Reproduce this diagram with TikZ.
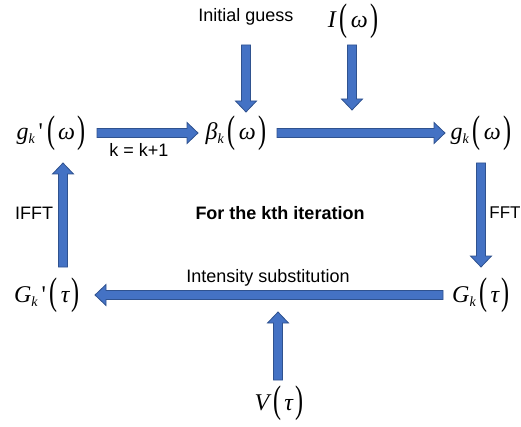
\documentclass[tikz,border=0pt]{standalone}
\usepackage{fontspec}
\setmainfont{Liberation Serif}
\newfontfamily\arialf{Liberation Sans}
\usetikzlibrary{calc}
\definecolor{arrfill}{HTML}{4472C4}
\definecolor{arrline}{HTML}{2F528F}
\newcommand\lp{\raisebox{-2.8pt}{\scalebox{1}[1.6]{(}}}
\newcommand\rp{\raisebox{-2.8pt}{\scalebox{1}[1.6]{)}}}
\newcommand\sk{\raisebox{-4pt}{\fontsize{14}{14}\selectfont\itshape k}}
\newcommand\prm{\hspace{4pt}{\upshape\textquotesingle}}
\newcommand\pa[1]{\hspace{4pt}\lp\hspace{3pt}{\itshape #1}\hspace{2.5pt}\rp}
\newcommand\barrow[2]{%
  \path let \p1=(#1),\p2=(#2),\n1={atan2(\y2-\y1,\x2-\x1)},\n2={veclen(\x2-\x1,\y2-\y1)} in
    \pgfextra{\pgfmathsetmacro\tmpa{\n1}\pgfmathsetmacro\tmpb{\n2}\xdef\barang{\tmpa}\xdef\barlen{\tmpb}\xdef\barx{\x1}\xdef\bary{\y1}};
  \begin{scope}[shift={(\barx,\bary)},rotate=\barang]
    \draw[blockarrow] (0,-4.5) -- ({\barlen-11},-4.5) -- ({\barlen-11},-10.5) -- (\barlen,0)
      -- ({\barlen-11},10.5) -- ({\barlen-11},4.5) -- (0,4.5) -- cycle;
  \end{scope}}
\begin{document}
\begin{tikzpicture}[x=1pt,y=1pt,
  blockarrow/.style={fill=arrfill,draw=arrline,line width=0.8pt,line join=miter},
  lbl/.style={font=\arialf\fontsize{18}{18}\selectfont,inner sep=0pt},
  mth/.style={font=\fontsize{24}{24}\selectfont,inner sep=0pt,anchor=base}]
\useasboundingbox (0,0) rectangle (521,426);
% labels
\node[lbl] (init) at (246,409) {Initial guess};
\node[mth] (Iw) at (353,398) {{\itshape I}\pa{ω}};
\node[mth] (gp) at (51,286) {{\itshape g}\sk\prm\pa{ω}};
\node[mth] (beta) at (236,286) {{\itshape β}\sk\pa{ω}};
\node[mth] (g) at (481,286) {{\itshape g}\sk\pa{ω}};
\node[mth] (Gp) at (47,124) {{\itshape G}\sk\prm\pa{τ}};
\node[mth] (G) at (481,124) {{\itshape G}\sk\pa{τ}};
\node[mth] (V) at (279,16) {{\itshape V}\pa{τ}};
\node[lbl] (kk) at (139,276) {k = k+1};
\node[lbl] (ifft) at (34,213) {IFFT};
\node[lbl,font=\arialf\fontsize{17}{17}\selectfont] (fft) at (505,213) {FFT};
\node[lbl,font=\arialf\bfseries\fontsize{18}{18}\selectfont] (iter) at (280,213) {For the kth iteration};
\node[lbl] (intsub) at (268,148) {Intensity substitution};
% arrow end points
\coordinate (a1s) at (246,381); \coordinate (a1e) at (246,314);
\coordinate (a2s) at (352,381); \coordinate (a2e) at (352,316);
\coordinate (a3s) at (97,293);  \coordinate (a3e) at (198,293);
\coordinate (a4s) at (277,293); \coordinate (a4e) at (445,293);
\coordinate (a5s) at (481,263); \coordinate (a5e) at (481,159);
\coordinate (a6s) at (443,131); \coordinate (a6e) at (95,131);
\coordinate (a7s) at (63,159);  \coordinate (a7e) at (63,263);
\coordinate (a8s) at (278,46);  \coordinate (a8e) at (278,114);
\barrow{a1s}{a1e}
\barrow{a2s}{a2e}
\barrow{a3s}{a3e}
\barrow{a4s}{a4e}
\barrow{a5s}{a5e}
\barrow{a6s}{a6e}
\barrow{a7s}{a7e}
\barrow{a8s}{a8e}
\end{tikzpicture}
\end{document}
